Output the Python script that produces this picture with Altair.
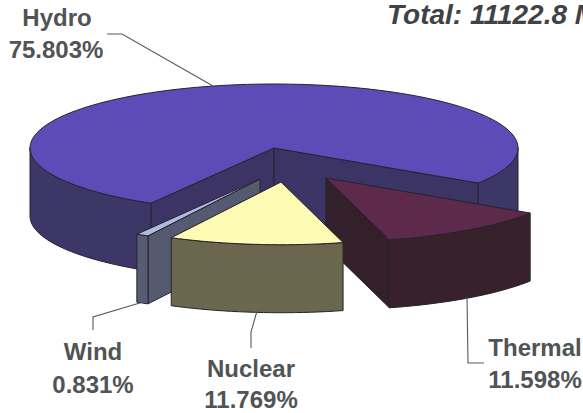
import math
import altair as alt
import pandas as pd

# Installed capacity shares, percent
sources = ["Hydro", "Thermal", "Nuclear", "Wind"]
shares = [75.803, 11.598, 11.769, 0.831]
share_labels = ["75.803%", "11.598%", "11.769%", "0.831%"]
total_label = "Total: 11122.8 MW"

# Pie layout, in chart units
RX, RY, DEPTH = 244, 64, 68
START_ANGLE = 33.2
apex = {"Hydro": (274, 148), "Thermal": (326, 178), "Nuclear": (281, 182), "Wind": (260, 179)}
radius_scale = {"Hydro": 1.0, "Thermal": 1.0, "Nuclear": 0.98, "Wind": 1.0}
top_colors = {"Hydro": "#5d4cb8", "Thermal": "#5e2a4c", "Nuclear": "#fdfbb4", "Wind": "#aebbdc"}
side_colors = {"Hydro": "#3d3768", "Thermal": "#37222c", "Nuclear": "#6b674f", "Wind": "#575c72"}
wall_colors = {"Hydro": "#3c3464", "Thermal": "#33202b", "Wind": "#555a70"}

# Slice angle ranges follow the order Thermal, Nuclear, Wind, then Hydro
angles = {}
cursor = START_ANGLE
for name in ["Thermal", "Nuclear", "Wind", "Hydro"]:
    sweep = shares[sources.index(name)] * 3.6
    angles[name] = (cursor, cursor + sweep)
    cursor += sweep

X = alt.X("x:Q", scale=alt.Scale(domain=[0, 583]), axis=None)
Y = alt.Y("y:Q", scale=alt.Scale(domain=[413, 0]), axis=None)


def rim(name, a0, a1, drop=0):
    cx, cy = apex[name]
    k = radius_scale[name]
    n = max(2, int(abs(a1 - a0) / 2) + 2)
    pts = []
    for i in range(n):
        a = math.radians(a0 + (a1 - a0) * i / (n - 1))
        pts.append((cx + k * RX * math.cos(a), cy + k * RY * math.sin(a) + drop))
    return pts


def face(points, fill, stroke="#26232e", width=1.0):
    closed = points + [points[0]]
    df = pd.DataFrame(closed, columns=["x", "y"])
    df["i"] = range(len(df))
    return (
        alt.Chart(df)
        .mark_line(fill=fill, stroke=stroke, strokeWidth=width, strokeJoin="round", clip=False)
        .encode(x=X, y=Y, order=alt.Order("i:Q"))
    )


def side(name, a0, a1):
    return face(rim(name, a0, a1) + rim(name, a1, a0, DEPTH), side_colors[name])


def wall(name, a):
    cx, cy = apex[name]
    p = rim(name, a, a)[0]
    return face([(cx, cy), p, (p[0], p[1] + DEPTH), (cx, cy + DEPTH)], wall_colors[name])


def top(name):
    a0, a1 = angles[name]
    return face([apex[name]] + rim(name, a0, a1), top_colors[name])


h0, h1 = angles["Hydro"]
t0, t1 = angles["Thermal"]
n0, n1 = angles["Nuclear"]
w0, w1 = angles["Wind"]

layers = [
    # Hydro: cut-out walls, outer rim on both sides of the gap, top
    wall("Hydro", h0),
    wall("Hydro", h1 - 360),
    side("Hydro", 0, h1 - 360),
    side("Hydro", h0, 180),
    top("Hydro"),
    # Thermal
    wall("Thermal", t1),
    side("Thermal", t0, t1),
    top("Thermal"),
    # Wind
    wall("Wind", w0),
    side("Wind", w0, w1),
    top("Wind"),
    # Nuclear
    side("Nuclear", n0, n1),
    top("Nuclear"),
]

# Leader lines from the labels to their slices
leaders = [
    [(107, 34), (122, 34), (213, 86)],
    [(143, 302), (93, 317), (93, 330)],
    [(257, 311), (251, 332), (251, 348)],
    [(467, 297), (468, 363), (484, 363)],
]
for path in leaders:
    df = pd.DataFrame(path, columns=["x", "y"])
    df["i"] = range(len(df))
    layers.append(
        alt.Chart(df).mark_line(stroke="#55585a", strokeWidth=1.1).encode(x=X, y=Y, order=alt.Order("i:Q"))
    )

# Two-line slice labels, placed by baseline
label_rows = pd.DataFrame(
    [
        {"x": 57, "y": 26, "t": "Hydro"},
        {"x": 56, "y": 58, "t": share_labels[0]},
        {"x": 93, "y": 360, "t": "Wind"},
        {"x": 93, "y": 393, "t": share_labels[3]},
        {"x": 251, "y": 377, "t": "Nuclear"},
        {"x": 251, "y": 408, "t": share_labels[2]},
        {"x": 535, "y": 356, "t": "Thermal"},
        {"x": 535, "y": 388, "t": share_labels[1]},
    ]
)
layers.append(
    alt.Chart(label_rows)
    .mark_text(font="Liberation Sans", fontWeight="bold", fontSize=24, color="#505454", align="center", baseline="alphabetic")
    .encode(x=X, y=Y, text="t:N")
)
layers.append(
    alt.Chart(pd.DataFrame([{"x": 387, "y": 24, "t": total_label}]))
    .mark_text(font="Liberation Sans", fontWeight="bold", fontStyle="italic", fontSize=28, color="#404246", align="left", baseline="alphabetic")
    .encode(x=X, y=Y, text="t:N")
)

chart = (
    alt.layer(*layers)
    .properties(width=583, height=413, padding=0, autosize=alt.AutoSizeParams(type="none"), background="#ffffff")
    .configure_view(stroke=None)
)
chart.save("out.html", embed_options={"renderer": "svg", "actions": False})
